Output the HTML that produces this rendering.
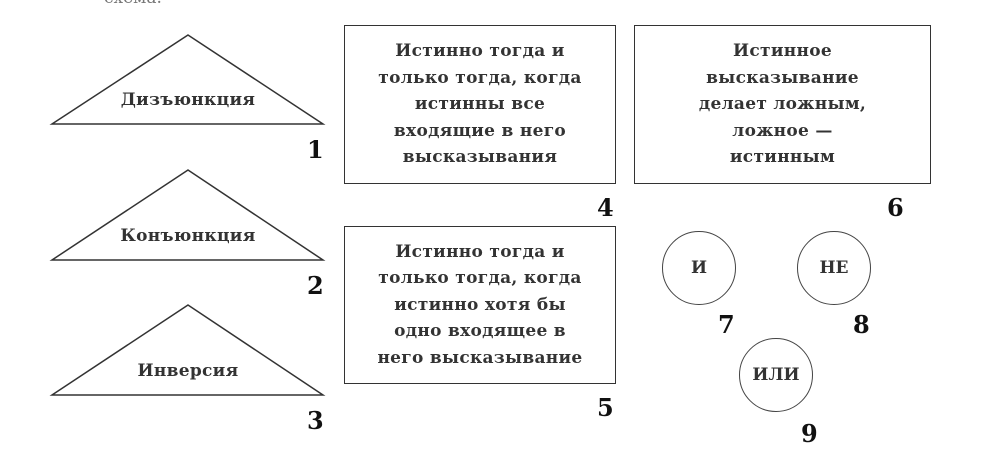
<!DOCTYPE html>
<html><head><meta charset="utf-8"><style>
body{margin:0;width:1000px;height:467px;background:#fff;overflow:hidden;position:relative;font-family:"DejaVu Serif","Liberation Serif",serif;color:#222}
.box{position:absolute;border:1.5px solid #333;box-sizing:border-box;display:flex;align-items:center;justify-content:center;text-align:center;font-size:17px;line-height:26.5px;font-weight:bold;color:#333;letter-spacing:0.3px;white-space:nowrap}
.n{position:absolute;font-size:24px;font-weight:bold;color:#111}
.t{position:absolute;font-size:17px;font-weight:bold;color:#333;text-align:center;width:240px;letter-spacing:0.3px}
.c{position:absolute;width:74px;height:74px;border:1.5px solid #444;border-radius:50%;box-sizing:border-box;display:flex;align-items:center;justify-content:center;font-size:17px;font-weight:bold;color:#333}
</style></head><body>
<div style="position:absolute;left:104px;top:-12px;font-size:17px;color:#777">схема.</div>
<svg width="1000" height="467" style="position:absolute;left:0;top:0">
<g fill="none" stroke="#333" stroke-width="1.5">
<polygon points="188,35 52,124 323,124"/>
<polygon points="188,170 52,260 323,260"/>
<polygon points="188,305 52,395 323,395"/>
</g></svg>
<div class="t" style="left:68px;top:90px">Дизъюнкция</div>
<div class="t" style="left:68px;top:226px">Конъюнкция</div>
<div class="t" style="left:68px;top:361px">Инверсия</div>
<div class="n" style="left:307px;top:135px">1</div>
<div class="n" style="left:307px;top:271px">2</div>
<div class="n" style="left:307px;top:406px">3</div>
<div class="box" style="left:344px;top:25px;width:272px;height:159px">Истинно тогда и<br>только тогда, когда<br>истинны все<br>входящие в него<br>высказывания</div>
<div class="box" style="left:634px;top:25px;width:297px;height:159px">Истинное<br>высказывание<br>делает ложным,<br>ложное —<br>истинным</div>
<div class="box" style="left:344px;top:226px;width:272px;height:158px">Истинно тогда и<br>только тогда, когда<br>истинно хотя бы<br>одно входящее в<br>него высказывание</div>
<div class="n" style="left:597px;top:193px">4</div>
<div class="n" style="left:887px;top:193px">6</div>
<div class="n" style="left:597px;top:393px">5</div>
<div class="c" style="left:662px;top:231px">И</div>
<div class="c" style="left:797px;top:231px">НЕ</div>
<div class="c" style="left:739px;top:338px">ИЛИ</div>
<div class="n" style="left:718px;top:310px">7</div>
<div class="n" style="left:853px;top:310px">8</div>
<div class="n" style="left:801px;top:419px">9</div>
</body></html>
